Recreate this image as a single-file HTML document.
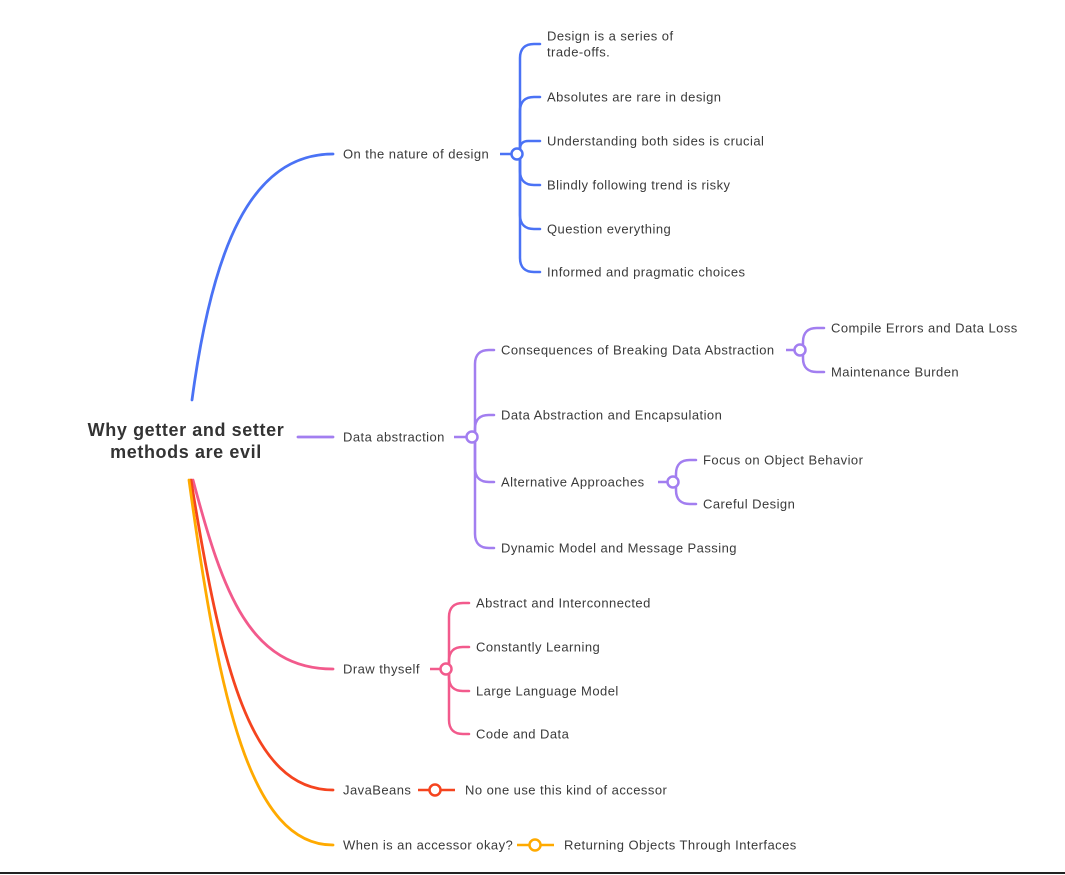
<!DOCTYPE html>
<html><head><meta charset="utf-8">
<style>
html,body{margin:0;padding:0;background:#fff;}
svg{display:block;}
text{font-family:"Liberation Sans",sans-serif;font-size:13px;letter-spacing:0.45px;fill:#3a3a3a;}
</style></head>
<body>
<svg id="map" width="1065" height="875" viewBox="0 0 1065 875">
<rect x="0" y="872" width="1065" height="2" fill="#222"/>
<text x="186" y="436" text-anchor="middle" style="font-size:18px;font-weight:bold;fill:#333;letter-spacing:0.6px"><tspan x="186" y="436">Why getter and setter</tspan><tspan x="186" y="458">methods are evil</tspan></text>
</svg>
<script>
const branchLabels = ["On the nature of design","Data abstraction","Draw thyself","JavaBeans","When is an accessor okay?"];
const branchY = [154,437,669,790,845];
const branchColors = ["#4a72f5","#a27ef0","#f25a8c","#f5441f","#ffaa00"];
const branchNodeX = [517,472,446,435,535];
const blueChildren = [["Design is a series of","trade-offs."],"Absolutes are rare in design","Understanding both sides is crucial","Blindly following trend is risky","Question everything","Informed and pragmatic choices"];
const blueChildY = [44,97,141,185,229,272];
const purpleChildren = ["Consequences of Breaking Data Abstraction","Data Abstraction and Encapsulation","Alternative Approaches","Dynamic Model and Message Passing"];
const purpleChildY = [350,415,482,548];
const consequenceChildren = ["Compile Errors and Data Loss","Maintenance Burden"];
const consequenceChildY = [328,372];
const alternativeChildren = ["Focus on Object Behavior","Careful Design"];
const alternativeChildY = [460,504];
const pinkChildren = ["Abstract and Interconnected","Constantly Learning","Large Language Model","Code and Data"];
const pinkChildY = [603,647,691,734];

const svg = document.getElementById('map');
const NS = 'http://www.w3.org/2000/svg';
function mk(tag, attrs){const e=document.createElementNS(NS,tag);for(const k in attrs)e.setAttribute(k,attrs[k]);svg.appendChild(e);return e;}
function label(x,y,t,name){
  const e=mk('text',{x:x,y:y+4.5});
  
  
  if(Array.isArray(t)){t.forEach((s,i)=>{const ts=document.createElementNS(NS,'tspan');ts.setAttribute('x',x);ts.setAttribute('y',y+4.5+(i-0.5)*16);ts.textContent=s;e.appendChild(ts);});}
  else e.textContent=t;
  return e;
}
function node(cx,cy,color,name){
  const c=mk('circle',{cx:cx,cy:cy,r:5.5,fill:'#fff',stroke:color,'stroke-width':2.5});
  
  
}
function bracket(cx,cy,ys,labels,color,tx,name){
  ys.forEach((yc,i)=>{
    const dy=yc-cy, s=Math.sign(dy)||1, r=Math.min(14,Math.abs(dy)/1.6);
    const trunk=cx+3;
    const d='M'+cx+','+cy+' C'+trunk+','+cy+' '+trunk+','+cy+' '+trunk+','+(cy+s*Math.min(6,Math.abs(dy)/3))+' L'+trunk+','+(yc-s*r)+' C'+trunk+','+(yc-s*r*0.3)+' '+(trunk+r*0.4)+','+yc+' '+(trunk+r)+','+yc+' L'+(tx-7)+','+yc;
    const p=mk('path',{d:d,fill:'none',stroke:color,'stroke-width':2.5,'stroke-linecap':'round'});
    
    
    label(tx,yc,labels[i],name+'-topic');
  });
}
const startPts=[[192,400],[298,437],[193,480],[191,480],[189,480]];
const labelWidths=[150,104,80,68,167];
branchLabels.forEach((b,i)=>{
  const [sx,sy]=startPts[i], ey=branchY[i], col=branchColors[i];
  let d;
  if(i===1) d='M'+sx+','+sy+' L333,'+ey;
  else if(i===0) d='M'+sx+','+sy+' C'+(sx+20)+','+(sy-150)+' 250,'+ey+' 333,'+ey;
  else d='M'+sx+','+sy+' C'+(sx+30)+','+(sy+(ey-sy)*0.6)+' 250,'+ey+' 333,'+ey;
  const p=mk('path',{d:d,fill:'none',stroke:col,'stroke-width':2.8,'stroke-linecap':'round'});
  
  
  label(343,ey,b,'branch-topic');
  const nx=branchNodeX[i];
  const l=mk('line',{x1:343+labelWidths[i]+7,y1:ey,x2:nx,y2:ey,stroke:col,'stroke-width':2.5});
  
  
});
bracket(517,154,blueChildY,blueChildren,branchColors[0],547,'design');
bracket(472,437,purpleChildY,purpleChildren,branchColors[1],501,'abstraction');
bracket(800,350,consequenceChildY,consequenceChildren,branchColors[1],831,'consequence');
bracket(673,482,alternativeChildY,alternativeChildren,branchColors[1],703,'alternative');
bracket(446,669,pinkChildY,pinkChildren,branchColors[2],476,'draw');
[[778,800,350],[650,673,482]].forEach(a=>{
  const l=mk('line',{x1:a[0]+8,y1:a[2],x2:a[1],y2:a[2],stroke:branchColors[1],'stroke-width':2.5});
  
  
});
[[435,790,'No one use this kind of accessor',465,3],[535,845,'Returning Objects Through Interfaces',564,4]].forEach(a=>{
  const l=mk('line',{x1:a[0],y1:a[1],x2:a[3]-10,y2:a[1],stroke:branchColors[a[4]],'stroke-width':2.5});
  
  
  label(a[3],a[1],a[2],'leaf-topic');
});
node(517,154,branchColors[0],'design-node');
node(472,437,branchColors[1],'abstraction-node');
node(800,350,branchColors[1],'consequence-node');
node(673,482,branchColors[1],'alternative-node');
node(446,669,branchColors[2],'draw-node');
node(435,790,branchColors[3],'javabeans-node');
node(535,845,branchColors[4],'accessor-node');
</script>
</body></html>
